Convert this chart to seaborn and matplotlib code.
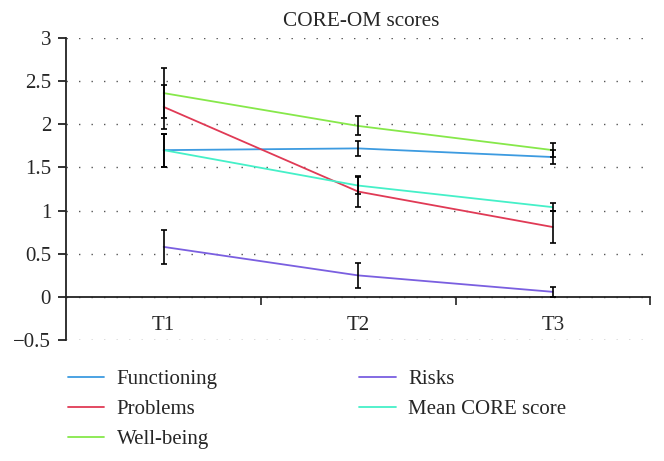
import numpy as np
import pandas as pd
import matplotlib
matplotlib.use('Agg')
import matplotlib.pyplot as plt
import seaborn as sns
from matplotlib.lines import Line2D

# ── data ──────────────────────────────────────────────────────────────────────
times = ['T1', 'T2', 'T3']
series = ['Functioning', 'Problems', 'Well-being', 'Risks', 'Mean CORE score']

functioning = [1.70, 1.72, 1.62]
problems = [2.20, 1.22, 0.81]
wellbeing = [2.36, 1.98, 1.70]
risks = [0.58, 0.25, 0.06]
mean_core = [1.70, 1.29, 1.04]

functioning_err = [0.19, 0.09, 0.08]
problems_err = [0.25, 0.18, 0.19]
wellbeing_err = [0.29, 0.11, 0.08]
risks_err = [0.20, 0.14, 0.06]
mean_core_err = [0.19, 0.10, 0.05]

colors = ['#3d9be0', '#e03a55', '#86e84a', '#7a5fe0', '#45f0c8']

values = [functioning, problems, wellbeing, risks, mean_core]
errors = [functioning_err, problems_err, wellbeing_err, risks_err, mean_core_err]

df = pd.DataFrame({
    'time': times * len(series),
    'score': np.concatenate(values),
    'err': np.concatenate(errors),
    'scale': np.repeat(series, len(times)),
})

# ── plot ──────────────────────────────────────────────────────────────────────
sns.set_style('white')
plt.rcParams['font.family'] = ['Liberation Serif', 'DejaVu Serif']

fig = plt.figure(figsize=(6.64, 4.61), dpi=100)
ax = fig.add_axes([0.100, 0.262, 0.879, 0.656])

sns.lineplot(data=df, x='time', y='score', hue='scale', hue_order=series,
             palette=colors, linewidth=1.3, legend=False, ax=ax, zorder=2)

ax.errorbar(df['time'], df['score'], yerr=df['err'], fmt='none',
            ecolor='black', elinewidth=1.2, capsize=2.5, capthick=1.2, zorder=3)

ax.set_xlim(-0.5, 2.5)
ax.set_ylim(-0.5, 3)
ax.set_yticks(np.arange(-0.5, 3.01, 0.5))
ax.set_yticklabels(['\u22120.5', '0', '0.5', '1', '1.5', '2', '2.5', '3'])
ax.set_xlabel('')
ax.set_ylabel('')
fig.text(361 / 664, 1 - 21 / 461, 'CORE-OM scores', ha='center', va='center',
         fontsize=15.3)

# axis styling
for s in ['top', 'right']:
    ax.spines[s].set_visible(False)
ax.spines['bottom'].set_position(('data', 0))
ax.spines['left'].set_color('#222222')
ax.spines['bottom'].set_color('#222222')
ax.spines['left'].set_linewidth(1.3)
ax.spines['bottom'].set_linewidth(1.3)

ax.tick_params(axis='y', which='major', length=6, width=1.3, labelsize=15,
               direction='out', left=True, color='#222222', pad=5)
ax.tick_params(axis='x', which='major', length=0, labelsize=15, pad=14)
ax.set_xticks([0.5, 1.5, 2.5], minor=True)
ax.tick_params(axis='x', which='minor', length=6, width=1.2, direction='out',
               bottom=True, color='#222222')

ax.yaxis.grid(True, linestyle=(0, (1, 8)), color='#555555', linewidth=1.0)
ax.xaxis.grid(False)
ax.set_axisbelow(True)

# legend below the plot
handles = [Line2D([], [], color=c, linewidth=1.3) for c in colors]
fig.legend(handles, series, loc='upper left', bbox_to_anchor=(0.102, 0.198),
           ncol=2, frameon=False, fontsize=15, handlelength=1.75,
           handletextpad=0.6, columnspacing=6.8, labelspacing=0.5,
           borderpad=0, borderaxespad=0)

fig.savefig('out.png', dpi=100)
plt.close(fig)
